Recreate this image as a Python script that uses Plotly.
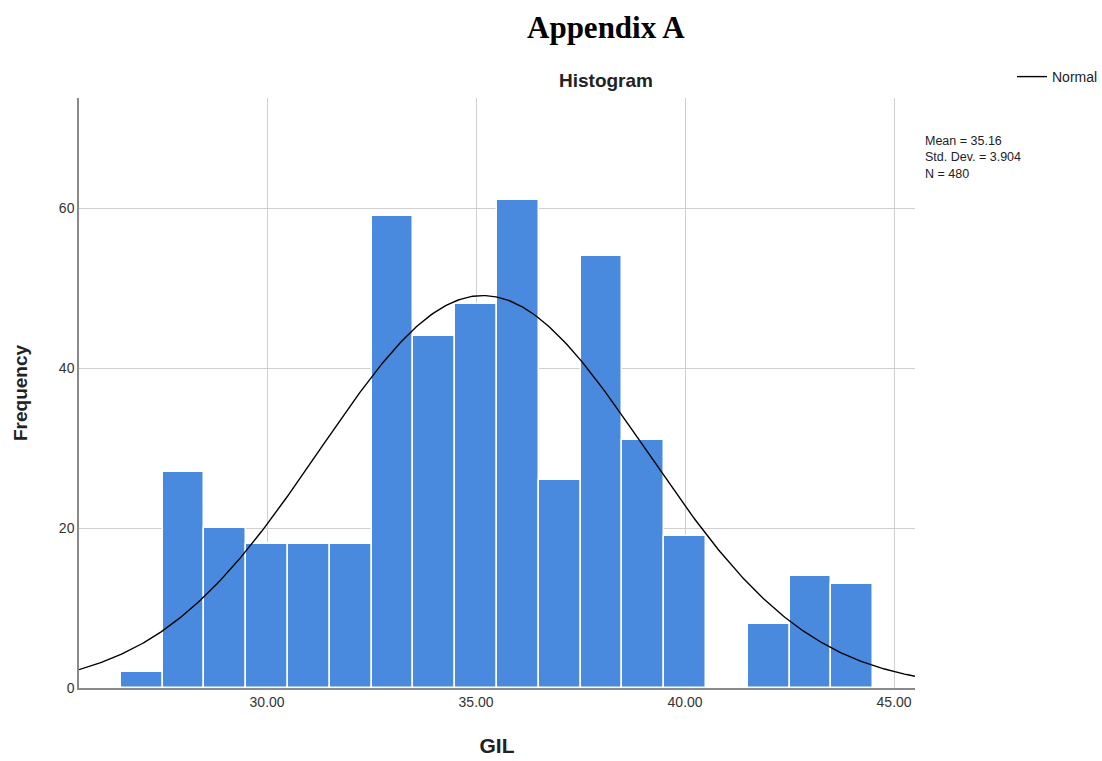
import numpy as np
import plotly.graph_objects as go

# GIL score bins (centres, width 1) and their frequencies
bin_centers = [27, 28, 29, 30, 31, 32, 33, 34, 35, 36, 37, 38, 39, 40, 41, 42, 43, 44]
frequencies = [2, 27, 20, 18, 18, 18, 59, 44, 48, 61, 26, 54, 31, 19, 0, 8, 14, 13]

mean_gil = 35.16
sd_gil = 3.904
n_gil = 480

x_ticks = [30, 35, 40, 45]
x_tick_labels = ["30.00", "35.00", "40.00", "45.00"]
y_ticks = [0, 20, 40, 60]

x_range = [25.5, 45.5]
y_range = [0, 73.75]

# Normal density scaled to counts (bin width 1)
xs = np.linspace(x_range[0], x_range[1], 400)
normal_counts = n_gil / (sd_gil * np.sqrt(2 * np.pi)) * np.exp(-0.5 * ((xs - mean_gil) / sd_gil) ** 2)

SANS = "Liberation Sans, Arial, sans-serif"

fig = go.Figure()
fig.add_trace(go.Bar(
    x=bin_centers, y=frequencies, width=1,
    marker=dict(color="#4a8ade", line=dict(color="white", width=1.5)),
    showlegend=False, hoverinfo="x+y",
))
fig.add_trace(go.Scatter(
    x=xs, y=normal_counts, mode="lines", name="Normal",
    line=dict(color="black", width=1.4),
))

fig.update_layout(
    width=1102, height=761,
    margin=dict(l=79, r=187, t=98, b=73, autoexpand=False),
    paper_bgcolor="white", plot_bgcolor="white",
    font=dict(family=SANS, color="#333333", size=13),
    bargap=0,
    showlegend=True,
    legend=dict(
        x=(1012 - 79) / 836, y=(688 - 77) / 590, xanchor="left", yanchor="middle",
        font=dict(family=SANS, size=14, color="#222222"),
        itemwidth=30, bgcolor="rgba(0,0,0,0)",
        tracegroupgap=0,
    ),
    xaxis=dict(
        range=x_range, tickvals=x_ticks, ticktext=x_tick_labels,
        showgrid=True, gridcolor="#cfcfcf", gridwidth=1,
        showline=True, linecolor="#8a8a8a", linewidth=1.5,
        ticks="", zeroline=False,
        tickfont=dict(family=SANS, size=14, color="#333333"),
        title=dict(text="<b>GIL</b>", font=dict(family=SANS, size=21, color="#222222"), standoff=30),
    ),
    yaxis=dict(
        range=y_range, tickvals=y_ticks,
        showgrid=True, gridcolor="#cfcfcf", gridwidth=1,
        showline=True, linecolor="#8a8a8a", linewidth=1.5,
        ticks="", zeroline=False,
        tickfont=dict(family=SANS, size=14, color="#333333"),
        title=dict(text="<b>Frequency</b>", font=dict(family=SANS, size=19, color="#222222"), standoff=26),
    ),
    annotations=[
        dict(text="<b>Appendix A</b>", xref="paper", yref="paper",
             x=(606 - 79) / 836, y=(688 - 27) / 590, xanchor="center", yanchor="middle",
             showarrow=False, font=dict(family="Liberation Serif, Times New Roman, serif", size=31, color="black")),
        dict(text="<b>Histogram</b>", xref="paper", yref="paper",
             x=(606 - 79) / 836, y=(688 - 80) / 590, xanchor="center", yanchor="middle",
             showarrow=False, font=dict(family=SANS, size=19, color="#222222")),
        dict(text=f"Mean = {mean_gil:.2f}<br>Std. Dev. = {sd_gil:.3f}<br>N = {n_gil}",
             xref="paper", yref="paper", align="left",
             x=(923 - 79) / 836, y=(688 - 132) / 590, xanchor="left", yanchor="top",
             showarrow=False, font=dict(family=SANS, size=12.5, color="#222222")),
    ],
)

fig.write_html("out.html")
